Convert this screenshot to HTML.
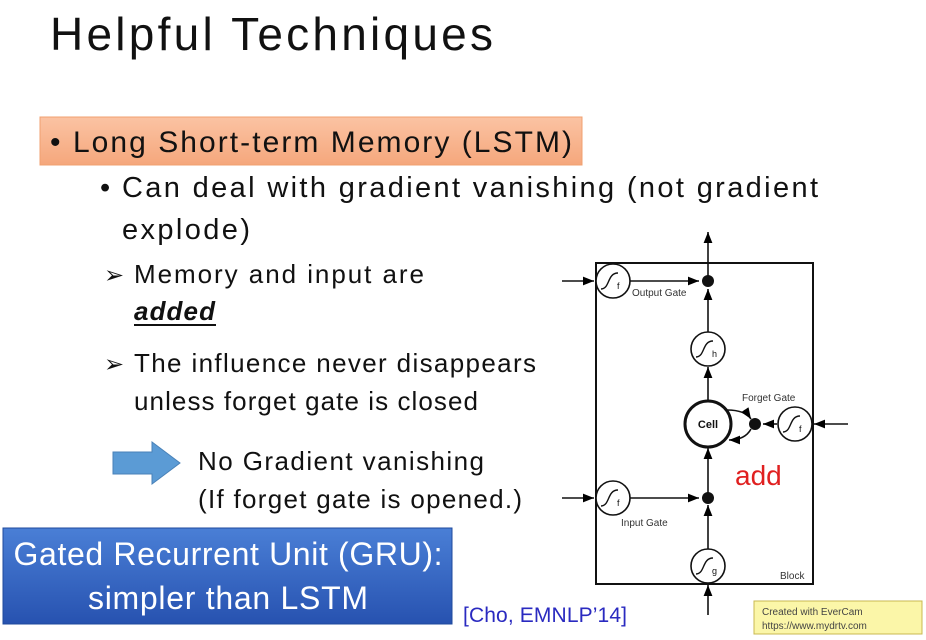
<!DOCTYPE html>
<html><head><meta charset="utf-8"><style>
html,body{margin:0;padding:0;background:#fff;}
svg{display:block;}
text{font-family:"Liberation Sans",sans-serif;}
</style></head><body>
<svg width="926" height="640" viewBox="0 0 926 640" xmlns="http://www.w3.org/2000/svg">
<defs>
<linearGradient id="og" x1="0" y1="0" x2="0" y2="1"><stop offset="0" stop-color="#fbc3a3"/><stop offset="1" stop-color="#f5a77c"/></linearGradient>
<linearGradient id="bg" x1="0" y1="0" x2="0" y2="1"><stop offset="0" stop-color="#4a7fd6"/><stop offset="1" stop-color="#2752b0"/></linearGradient>
<marker id="ar" viewBox="0 0 10 10" refX="10" refY="5" markerWidth="7" markerHeight="7" orient="auto"><path d="M0,1 L10,5 L0,9 z" fill="#000"/></marker>
</defs>
<text x="50" y="50" font-size="46" textLength="443" fill="#111">Helpful Techniques</text>
<rect x="40" y="117" width="542" height="48" fill="url(#og)" stroke="#f0a070"/>
<text x="50" y="152" font-size="30" textLength="522" fill="#111">• Long Short-term Memory (LSTM)</text>
<text x="100" y="197" font-size="29" fill="#111">•</text>
<text x="122" y="197" font-size="29" textLength="696" fill="#111">Can deal with gradient vanishing (not gradient</text>
<text x="122" y="239" font-size="29" textLength="128" fill="#111">explode)</text>
<text x="104" y="283" font-size="24" fill="#111">➢</text>
<text x="134" y="283" font-size="26" textLength="290" fill="#111">Memory and input are</text>
<text x="134" y="320" font-size="26" font-weight="bold" font-style="italic" textLength="81" fill="#111">added</text>
<rect x="134" y="324" width="82" height="2" fill="#111"/>
<text x="104" y="372" font-size="24" fill="#111">➢</text>
<text x="134" y="372" font-size="26" textLength="402" fill="#111">The influence never disappears</text>
<text x="134" y="410" font-size="26" textLength="344" fill="#111">unless forget gate is closed</text>
<path d="M113,452 H152 V442 L180,463 L152,484 V474 H113 Z" fill="#5b9bd5" stroke="#4a82b8"/>
<text x="198" y="470" font-size="26" textLength="286" fill="#111">No Gradient vanishing</text>
<text x="198" y="508" font-size="26" textLength="324" fill="#111">(If forget gate is opened.)</text>
<rect x="3" y="528" width="449" height="96" fill="url(#bg)" stroke="#1f4a9c"/>
<text x="228" y="565" font-size="32" text-anchor="middle" textLength="429" fill="#fff">Gated Recurrent Unit (GRU):</text>
<text x="228" y="609" font-size="32" text-anchor="middle" textLength="280" fill="#fff">simpler than LSTM</text>
<text x="463" y="622" font-size="21" textLength="164" fill="#2a2ac0">[Cho, EMNLP’14]</text>
<!-- LSTM diagram -->
<g stroke="#111" fill="none" stroke-width="1.6">
<rect x="596" y="263" width="217" height="321" stroke-width="2"/>
<line x1="708" y1="615" x2="708" y2="585" marker-end="url(#ar)"/>
<line x1="708" y1="549" x2="708" y2="505" marker-end="url(#ar)"/>
<line x1="708" y1="498" x2="708" y2="448" marker-end="url(#ar)"/>
<line x1="708" y1="401" x2="708" y2="367" marker-end="url(#ar)"/>
<line x1="708" y1="332" x2="708" y2="289" marker-end="url(#ar)"/>
<line x1="708" y1="281" x2="708" y2="232" marker-end="url(#ar)"/>
<line x1="562" y1="281" x2="594" y2="281" marker-end="url(#ar)"/>
<line x1="630" y1="281" x2="699" y2="281" marker-end="url(#ar)"/>
<line x1="562" y1="498" x2="594" y2="498" marker-end="url(#ar)"/>
<line x1="630" y1="498" x2="699" y2="498" marker-end="url(#ar)"/>
<line x1="848" y1="424" x2="814" y2="424" marker-end="url(#ar)"/>
<line x1="777" y1="424" x2="763" y2="424" marker-end="url(#ar)"/>
<path d="M727,410 Q745,410 751,419" marker-end="url(#ar)"/>
<path d="M751,429 Q745,440 729,440" marker-end="url(#ar)"/>
<circle cx="613" cy="281" r="17" fill="#fff"/>
<circle cx="613" cy="498" r="17" fill="#fff"/>
<circle cx="708" cy="349" r="17" fill="#fff"/>
<circle cx="708" cy="566" r="17" fill="#fff"/>
<circle cx="795" cy="424" r="17" fill="#fff"/>
<circle cx="708" cy="424" r="23" fill="#fff" stroke-width="3"/>
<path d="M601,289 C610,289 607,273 618,273 M601,506 C610,506 607,490 618,490 M696,357 C705,357 702,341 713,341 M696,574 C705,574 702,558 713,558 M783,432 C792,432 789,416 800,416" stroke-width="1.4"/>
</g>
<g fill="#111">
<circle cx="708" cy="281" r="6"/><circle cx="708" cy="498" r="6"/><circle cx="755" cy="424" r="6"/>
<text x="617" y="289" font-size="9">f</text><text x="617" y="506" font-size="9">f</text>
<text x="712" y="357" font-size="9">h</text><text x="712" y="574" font-size="9">g</text><text x="799" y="432" font-size="9">f</text>
<text x="708" y="428" font-size="11" font-weight="bold" text-anchor="middle">Cell</text>
<text x="632" y="296" font-size="10" fill="#333">Output Gate</text>
<text x="621" y="526" font-size="10" fill="#333">Input Gate</text>
<text x="742" y="401" font-size="10" fill="#333">Forget Gate</text>
<text x="780" y="579" font-size="10" fill="#333">Block</text>
</g>
<text x="735" y="485" font-size="28" fill="#e02020">add</text>
<rect x="754" y="601" width="168" height="33" fill="#fbf6a8" stroke="#c8b850"/>
<text x="762" y="615" font-size="10" fill="#444">Created with EverCam</text>
<text x="762" y="629" font-size="10" fill="#444">https://www.mydrtv.com</text>
</svg>
</body></html>
